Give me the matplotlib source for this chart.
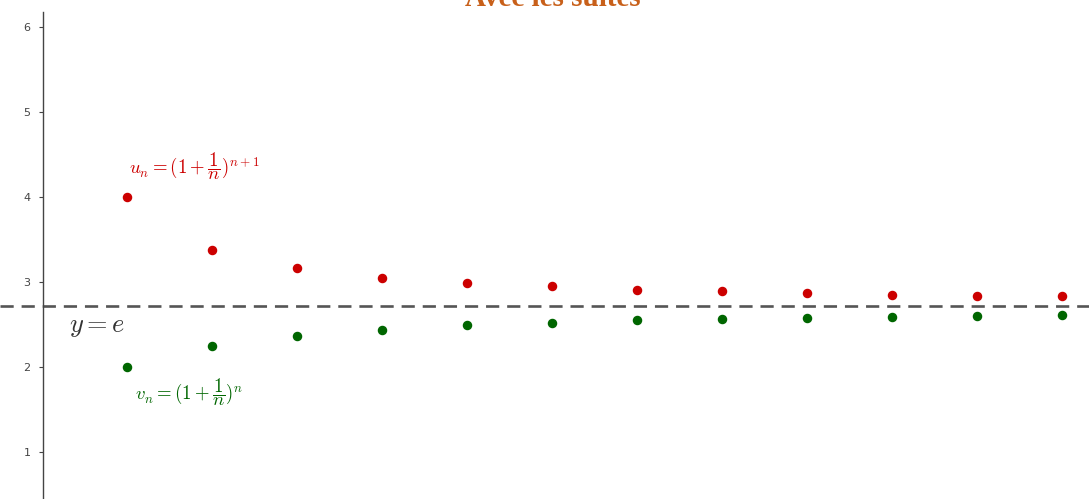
import matplotlib.pyplot as plt

# valeurs
n_vals = [1, 2, 3, 4, 5, 6, 7, 8, 9, 10, 11, 12]
u_vals = [4.0, 3.375, 3.16, 3.05, 2.99, 2.95, 2.91, 2.89, 2.87, 2.85, 2.84, 2.83]
v_vals = [2.0, 2.25, 2.37, 2.44, 2.49, 2.52, 2.55, 2.57, 2.58, 2.59, 2.60, 2.61]
e_val = 2.718
y_ticks = [1, 2, 3, 4, 5, 6]

plt.rcParams['mathtext.fontset'] = 'cm'

fig = plt.figure(figsize=(10.89, 4.99), dpi=100)
ax = fig.add_axes([0, 0, 1, 1])
ax.set_xlim(-0.494, 12.32)
ax.set_ylim(0.447, 6.318)

for s in ['top', 'right', 'bottom']:
    ax.spines[s].set_visible(False)
ax.spines['left'].set_position(('data', 0.01))
ax.spines['left'].set_bounds(0.447, 6.18)
ax.spines['left'].set_color('#444444')
ax.spines['left'].set_linewidth(1.0)

ax.set_xticks([])
ax.set_yticks(y_ticks)
ax.tick_params(axis='y', direction='out', length=3, width=0.8, color='#444444',
               labelsize=8, labelcolor='#444444', pad=6)

ax.axhline(e_val, color='#555555', lw=1.9, dashes=(5, 3))

ax.scatter(n_vals, u_vals, s=34, color='#cc0000', zorder=3)
ax.scatter(n_vals, v_vals, s=34, color='#006600', zorder=3)

ax.text(1.02, 4.36, r'$u_n = (1+\dfrac{1}{n})^{n+1}$', color='#cc0000', fontsize=13.5,
        va='center', ha='left')
ax.text(1.1, 1.7, r'$v_n = (1+\dfrac{1}{n})^{n}$', color='#006600', fontsize=13.5,
        va='center', ha='left')
ax.text(0.32, 2.48, r'$y = e$', color='#333333', fontsize=19, va='center', ha='left')

fig.text(553 / 1089, 1 - 6 / 499, 'Avec les suites', color='#c8601a', fontsize=21,
         fontweight='bold', family='Liberation Serif', ha='center', va='baseline')

fig.savefig('out.png', dpi=100)
